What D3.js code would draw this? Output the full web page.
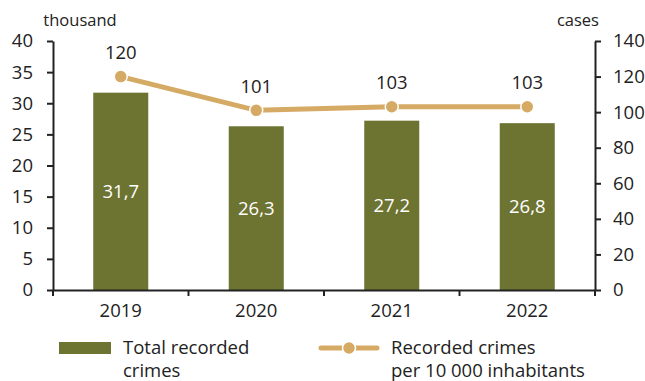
<!DOCTYPE html>
<html>
<head>
<meta charset="utf-8">
<script src="https://cdn.jsdelivr.net/npm/d3@7"></script>
<style>
  body { margin: 0; background: #fff; }
  text { font-family: "Open Sans", "Liberation Sans", sans-serif; fill: #222; }
</style>
</head>
<body>
<div id="chart"></div>
<script>
var years = ["2019", "2020", "2021", "2022"];
var totalCrimes = [31.7, 26.3, 27.2, 26.8];
var crimesPer10k = [120, 101, 103, 103];
var leftTicks = [0, 5, 10, 15, 20, 25, 30, 35, 40];
var rightTicks = [0, 20, 40, 60, 80, 100, 120, 140];

var barColor = "#6d7331",
    lineColor = "#d5aa64";
var fs = "18.5px";

var W = 645, H = 381;
var margin = {top: 41, right: 50, bottom: 91, left: 53},
    width = W - margin.left - margin.right,
    height = H - margin.top - margin.bottom;

var svg = d3.select("#chart").append("svg")
    .attr("width", W)
    .attr("height", H)
    .append("g")
    .attr("transform", "translate(" + margin.left + "," + margin.top + ")");

var x = d3.scaleBand().domain(years).range([0, width]).paddingInner(0.594).paddingOuter(0.297);
var xBand = d3.scaleBand().domain(years).range([0, width]);
var yL = d3.scaleLinear().domain([0, 40]).range([height, 0]);
var yR = d3.scaleLinear().domain([0, 140]).range([height, 0]);

// bars
svg.selectAll("rect.bar")
    .data(totalCrimes)
    .enter().append("rect")
    .attr("class", "bar")
    .attr("x", function (d, i) { return x(years[i]); })
    .attr("y", function (d) { return yL(d); })
    .attr("width", x.bandwidth())
    .attr("height", function (d) { return height - yL(d); })
    .style("fill", barColor);

svg.selectAll("text.barlab")
    .data(totalCrimes)
    .enter().append("text")
    .attr("x", function (d, i) { return x(years[i]) + x.bandwidth() / 2; })
    .attr("y", function (d) { return (yL(d) + height) / 2; })
    .attr("dy", "0.35em")
    .attr("text-anchor", "middle")
    .style("font-size", fs)
    .style("fill", "#fff")
    .text(function (d) { return d3.format(".1f")(d).replace(".", ","); });

// axes
var axisL = svg.append("g")
    .call(d3.axisLeft(yL).tickValues(leftTicks).tickSize(6).tickSizeOuter(0).tickPadding(14));
var axisR = svg.append("g")
    .attr("transform", "translate(" + width + ",0)")
    .call(d3.axisRight(yR).tickValues(rightTicks).tickSize(6).tickSizeOuter(0).tickPadding(12));
var axisB = svg.append("g")
    .attr("transform", "translate(0," + height + ")")
    .call(d3.axisBottom(xBand).tickSize(0).tickPadding(14));

// tick marks at band edges on x axis
svg.selectAll("line.xtick")
    .data([0, 1, 2, 3, 4])
    .enter().append("line")
    .attr("x1", function (d) { return d * xBand.step(); })
    .attr("x2", function (d) { return d * xBand.step(); })
    .attr("y1", height)
    .attr("y2", height + 6)
    .style("stroke", "#222")
    .style("stroke-width", 2);

[axisL, axisR, axisB].forEach(function (a) {
    a.selectAll("path").style("stroke", "#222").style("stroke-width", 2);
    a.selectAll("line").style("stroke", "#222").style("stroke-width", 2);
    a.selectAll("text").style("font-size", fs).style("fill", "#222")
        .style("font-family", "'Open Sans', 'Liberation Sans', sans-serif");
});

// line series
var line = d3.line()
    .x(function (d, i) { return xBand(years[i]) + xBand.bandwidth() / 2; })
    .y(function (d) { return yR(d); });

svg.append("path")
    .datum(crimesPer10k)
    .attr("d", line)
    .style("fill", "none")
    .style("stroke", lineColor)
    .style("stroke-width", 5);

svg.selectAll("circle.pt")
    .data(crimesPer10k)
    .enter().append("circle")
    .attr("cx", function (d, i) { return xBand(years[i]) + xBand.bandwidth() / 2; })
    .attr("cy", function (d) { return yR(d); })
    .attr("r", 6.5)
    .style("fill", lineColor)
    .style("stroke", "#fff")
    .style("stroke-width", 1.5);

svg.selectAll("text.ptlab")
    .data(crimesPer10k)
    .enter().append("text")
    .attr("x", function (d, i) { return xBand(years[i]) + xBand.bandwidth() / 2; })
    .attr("y", function (d) { return yR(d) - 24; })
    .attr("dy", "0.35em")
    .attr("text-anchor", "middle")
    .style("font-size", fs)
    .text(function (d) { return d; });

// unit labels
svg.append("text")
    .attr("x", 27).attr("y", -15)
    .attr("text-anchor", "middle")
    .style("font-size", "16.5px")
    .text("thousand");
svg.append("text")
    .attr("x", width + 4).attr("y", -15)
    .attr("text-anchor", "end")
    .style("font-size", "16.5px")
    .text("cases");

// legend
var leg = svg.append("g").attr("transform", "translate(0," + (height + 58) + ")");
leg.append("rect")
    .attr("x", 6).attr("y", -6).attr("width", 52).attr("height", 12)
    .style("fill", barColor);
leg.append("text").attr("x", 70).attr("y", 0).attr("dy", "0.35em")
    .style("font-size", fs).text("Total recorded");
leg.append("text").attr("x", 70).attr("y", 23).attr("dy", "0.35em")
    .style("font-size", fs).text("crimes");

leg.append("line")
    .attr("x1", 268).attr("x2", 324).attr("y1", 0).attr("y2", 0)
    .style("stroke", lineColor).style("stroke-width", 5).style("stroke-linecap", "round");
leg.append("circle")
    .attr("cx", 296).attr("cy", 0).attr("r", 6.5)
    .style("fill", lineColor).style("stroke", "#fff").style("stroke-width", 1.5);
leg.append("text").attr("x", 338).attr("y", 0).attr("dy", "0.35em")
    .style("font-size", fs).text("Recorded crimes");
leg.append("text").attr("x", 338).attr("y", 23).attr("dy", "0.35em")
    .style("font-size", fs).text("per 10 000 inhabitants");
</script>
</body>
</html>
